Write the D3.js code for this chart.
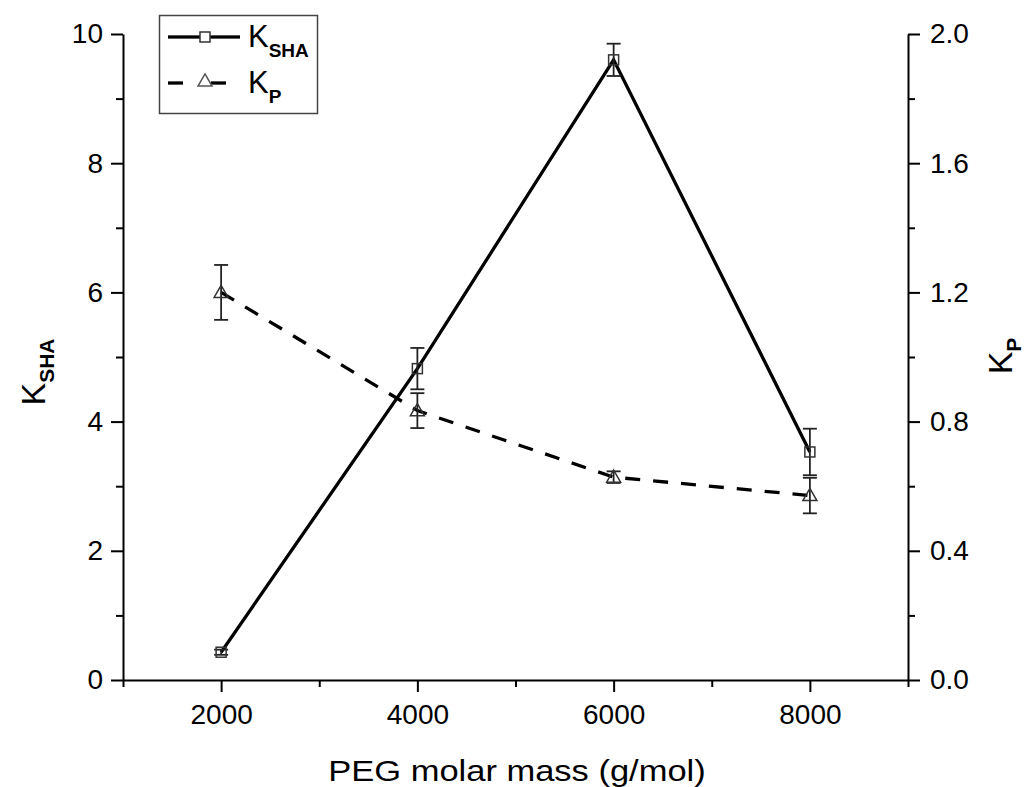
<!DOCTYPE html>
<html>
<head>
<meta charset="utf-8">
<script src="https://cdn.jsdelivr.net/npm/d3@7"></script>
<style>
  html, body { margin: 0; padding: 0; background: #fff; }
  svg { display: block; }
  text { font-family: "Liberation Sans", Arial, sans-serif; fill: #000; }
</style>
</head>
<body>
<svg id="chart" width="1024" height="787"></svg>
<script>
// ---- data ----
const pegMass = [2000, 4000, 6000, 8000];
const kSHA = [0.43, 4.82, 9.60, 3.53];
const kSHAErr = [0.04, 0.32, 0.25, 0.36];
const kP = [1.20, 0.834, 0.628, 0.571];
const kPErr = [0.085, 0.054, 0.018, 0.055];
const xTicks = [2000, 4000, 6000, 8000];
const xMinor = [1000, 3000, 5000, 7000, 9000];
const yLeftTicks = [0, 2, 4, 6, 8, 10];
const yLeftMinor = [1, 3, 5, 7, 9];
const yRightTicks = [0, 0.4, 0.8, 1.2, 1.6, 2.0];
const yRightMinor = [0.2, 0.6, 1.0, 1.4, 1.8];

// ---- layout ----
const L = 123, R = 908, T = 34, B = 680;
const svg = d3.select("#chart");
const x = d3.scaleLinear().domain([1000, 9000]).range([L, R]);
const yL = d3.scaleLinear().domain([0, 10]).range([B, T]);
const yR = d3.scaleLinear().domain([0, 2]).range([B, T]);

const axisW = 2, tickLen = 12, minorLen = 7;

// minor ticks first
svg.append("g").attr("class", "minor").attr("transform", `translate(0,${B})`)
  .call(d3.axisBottom(x).tickValues(xMinor).tickSize(minorLen).tickFormat(""));
svg.append("g").attr("class", "minor").attr("transform", `translate(${L},0)`)
  .call(d3.axisLeft(yL).tickValues(yLeftMinor).tickSize(minorLen).tickFormat(""));
svg.append("g").attr("class", "minor").attr("transform", `translate(${R},0)`)
  .call(d3.axisRight(yR).tickValues(yRightMinor).tickSize(minorLen).tickFormat(""));
svg.selectAll(".minor .domain").remove();

// major axes
const gx = svg.append("g").attr("transform", `translate(0,${B})`)
  .call(d3.axisBottom(x).tickValues(xTicks).tickSize(tickLen).tickSizeOuter(0).tickPadding(12).tickFormat(d3.format("d")));
const gl = svg.append("g").attr("transform", `translate(${L},0)`)
  .call(d3.axisLeft(yL).tickValues(yLeftTicks).tickSize(tickLen).tickSizeOuter(0).tickPadding(8).tickFormat(d3.format("d")));
const gr = svg.append("g").attr("transform", `translate(${R},0)`)
  .call(d3.axisRight(yR).tickValues(yRightTicks).tickSize(tickLen).tickSizeOuter(0).tickPadding(10).tickFormat(d3.format(".1f")));

svg.selectAll(".domain").attr("stroke", "#000").attr("stroke-width", axisW);
svg.selectAll(".tick line").attr("stroke", "#000").attr("stroke-width", axisW);
svg.selectAll(".tick text").attr("font-size", 28).attr("font-family", "Liberation Sans, Arial, sans-serif").attr("fill", "#000");

// axis titles
svg.append("text").attr("x", 517).attr("y", 781).attr("text-anchor", "middle")
  .attr("font-size", 30).attr("transform", "translate(517,781) scale(1.15,1) translate(-517,-781)")
  .text("PEG molar mass (g/mol)");

const yt = svg.append("text").attr("transform", "translate(45,372) rotate(-90)").attr("text-anchor", "middle").attr("font-size", 34);
yt.append("tspan").text("K");
yt.append("tspan").attr("dy", 9).attr("font-size", 21).attr("font-weight", "bold").text("SHA");

const yt2 = svg.append("text").attr("transform", "translate(1012,356) rotate(-90)").attr("text-anchor", "middle").attr("font-size", 34);
yt2.append("tspan").text("K");
yt2.append("tspan").attr("dy", 9).attr("font-size", 21).attr("font-weight", "bold").text("P");

// ---- series ----
const lineSHA = d3.line().x((d, i) => x(pegMass[i])).y(d => yL(d));
const lineP = d3.line().x((d, i) => x(pegMass[i])).y(d => yR(d));

svg.append("path").datum(kP).attr("d", lineP).attr("fill", "none")
  .attr("stroke", "#000").attr("stroke-width", 3.3).attr("stroke-dasharray", "15,13");
svg.append("path").datum(kSHA).attr("d", lineSHA).attr("fill", "none")
  .attr("stroke", "#000").attr("stroke-width", 3.3);

// error bars
function errBars(vals, errs, scale) {
  const g = svg.append("g").attr("stroke", "#222").attr("stroke-width", 1.8);
  vals.forEach((v, i) => {
    const cx = x(pegMass[i]);
    const y1 = scale(v + errs[i]), y2 = scale(v - errs[i]);
    g.append("line").attr("x1", cx).attr("x2", cx).attr("y1", y1).attr("y2", y2);
    g.append("line").attr("x1", cx - 7).attr("x2", cx + 7).attr("y1", y1).attr("y2", y1);
    g.append("line").attr("x1", cx - 7).attr("x2", cx + 7).attr("y1", y2).attr("y2", y2);
  });
}
errBars(kSHA, kSHAErr, yL);
errBars(kP, kPErr, yR);

// markers
const sq = 10;
svg.append("g").selectAll("rect").data(kSHA).join("rect")
  .attr("x", (d, i) => x(pegMass[i]) - sq / 2).attr("y", d => yL(d) - sq / 2)
  .attr("width", sq).attr("height", sq)
  .attr("fill", "none").attr("stroke", "#333").attr("stroke-width", 1.5);
const tri = d3.symbol().type(d3.symbolTriangle).size(85);
svg.append("g").selectAll("path").data(kP).join("path")
  .attr("d", tri).attr("transform", (d, i) => `translate(${x(pegMass[i])},${yR(d) + 1})`)
  .attr("fill", "none").attr("stroke", "#333").attr("stroke-width", 1.5);

// ---- legend ----
const lg = svg.append("g");
lg.append("rect").attr("x", 159.5).attr("y", 15.5).attr("width", 158).attr("height", 98)
  .attr("fill", "#fff").attr("stroke", "#444").attr("stroke-width", 1.5);
// row 1
lg.append("line").attr("x1", 168).attr("x2", 200).attr("y1", 37).attr("y2", 37).attr("stroke", "#000").attr("stroke-width", 3.3);
lg.append("line").attr("x1", 210).attr("x2", 240).attr("y1", 37).attr("y2", 37).attr("stroke", "#000").attr("stroke-width", 3.3);
lg.append("rect").attr("x", 200).attr("y", 32).attr("width", sq).attr("height", sq)
  .attr("fill", "#fff").attr("stroke", "#333").attr("stroke-width", 1.5);
const t1 = lg.append("text").attr("x", 248).attr("y", 47).attr("font-size", 31);
t1.append("tspan").text("K");
t1.append("tspan").attr("dy", 10).attr("font-size", 19).attr("font-weight", "bold").text("SHA");
// row 2
lg.append("line").attr("x1", 168).attr("x2", 183).attr("y1", 83).attr("y2", 83).attr("stroke", "#000").attr("stroke-width", 3.3);
lg.append("line").attr("x1", 211).attr("x2", 226).attr("y1", 83).attr("y2", 83).attr("stroke", "#000").attr("stroke-width", 3.3);
lg.append("path").attr("d", tri).attr("transform", "translate(205,82)")
  .attr("fill", "#fff").attr("stroke", "#555").attr("stroke-width", 1.5);
const t2 = lg.append("text").attr("x", 248).attr("y", 93).attr("font-size", 31);
t2.append("tspan").text("K");
t2.append("tspan").attr("dy", 10).attr("font-size", 19).attr("font-weight", "bold").text("P");
</script>
</body>
</html>
